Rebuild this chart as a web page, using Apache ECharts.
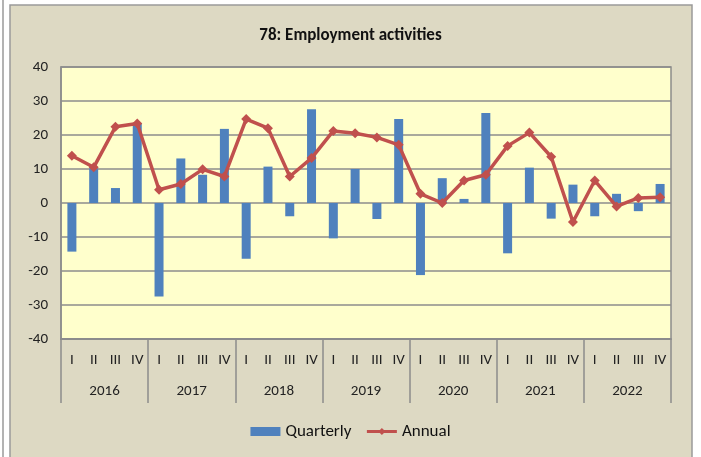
<!DOCTYPE html>
<html>
<head>
<meta charset="utf-8">
<script src="https://cdn.jsdelivr.net/npm/echarts@6/dist/echarts.min.js"></script>
<style>
html, body { margin: 0; padding: 0; background: #fff; }
#chart { width: 701px; height: 457px; }
</style>
</head>
<body>
<div id="chart"></div>
<script>
// 78: Employment activities - quarterly vs annual change
var years = ['2016', '2017', '2018', '2019', '2020', '2021', '2022'];
var quarterNames = ['I', 'II', 'III', 'IV'];
var quarterly = [-14.3, 10.2, 4.4, 23.5, -27.5, 13.1, 8.3, 21.8, -16.4, 10.7, -3.9, 27.6,
                 -10.4, 10.0, -4.7, 24.7, -21.2, 7.3, 1.2, 26.5, -14.8, 10.4, -4.6, 5.4,
                 -3.9, 2.7, -2.4, 5.6];
var annual = [13.9, 10.5, 22.4, 23.4, 3.9, 5.6, 9.9, 7.8, 24.7, 22.0, 7.8, 13.2,
              21.2, 20.5, 19.3, 17.1, 2.7, 0.0, 6.6, 8.3, 16.8, 20.7, 13.6, -5.6,
              6.6, -1.0, 1.5, 1.7];

var quarters = [];
years.forEach(function () {
    quarterNames.forEach(function (q) { quarters.push(q); });
});

var font = 'Carlito, "Liberation Sans Narrow", Lato, sans-serif';
var chart = echarts.init(document.getElementById('chart'));

var option = {
    backgroundColor: '#ffffff',
    animation: false,
    graphic: [
        { type: 'rect', shape: { x: 10, y: 5, width: 682, height: 460 },
          style: { fill: '#ddd9c3', stroke: '#9a9a9a', lineWidth: 1.5 }, z: -10 },
        { type: 'line', shape: { x1: 3, y1: 0, x2: 3, y2: 457 },
          style: { stroke: '#9a9a9a', lineWidth: 1.5 }, z: -10 }
    ],
    title: {
        text: '78: Employment activities',
        left: 'center',
        top: 22,
        textStyle: { fontFamily: font, fontSize: 17, fontWeight: 'bold', color: '#111' }
    },
    legend: {
        bottom: 12,
        left: 'center',
        itemGap: 14,
        itemWidth: 30,
        itemHeight: 9,
        textStyle: { fontFamily: font, fontSize: 17, color: '#111' },
        lineStyle: { width: 3 },
        data: [
            { name: 'Quarterly', icon: 'rect' },
            { name: 'Annual' }
        ]
    },
    grid: {
        left: 61,
        right: 30,
        top: 67,
        bottom: 118,
        show: true,
        backgroundColor: '#ffffcc',
        borderColor: '#8c8c8c',
        borderWidth: 1.5
    },
    xAxis: [{
        type: 'category',
        data: quarters,
        position: 'bottom',
        axisLine: { onZero: false, lineStyle: { color: '#8c8c8c', width: 1.5 } },
        axisTick: { show: false },
        axisLabel: { interval: 0, margin: 14, fontFamily: font, fontSize: 15, color: '#222' }
    }, {
        type: 'category',
        data: years,
        position: 'bottom',
        axisLine: { onZero: false, lineStyle: { color: '#8c8c8c', width: 1.5 } },
        axisTick: { show: true, length: 64, lineStyle: { color: '#8c8c8c', width: 1.5 } },
        axisLabel: { interval: 0, margin: 45, fontFamily: font, fontSize: 15, color: '#222' }
    }],
    yAxis: {
        type: 'value',
        min: -40,
        max: 40,
        interval: 10,
        axisLine: { show: true, lineStyle: { color: '#8c8c8c', width: 1.5 } },
        axisTick: { show: false },
        axisLabel: { margin: 13, fontFamily: font, fontSize: 15, color: '#222' },
        splitLine: { lineStyle: { color: '#8c8c8c', width: 1.5 } }
    },
    series: [{
        name: 'Quarterly',
        type: 'bar',
        xAxisIndex: 0,
        data: quarterly,
        barWidth: 9,
        itemStyle: { color: '#4f81bd' }
    }, {
        name: 'Annual',
        type: 'line',
        xAxisIndex: 0,
        data: annual,
        symbol: 'diamond',
        symbolSize: 10,
        lineStyle: { color: '#c0504d', width: 3.5 },
        itemStyle: { color: '#c0504d' }
    }]
};
chart.setOption(option);
</script>
</body>
</html>
